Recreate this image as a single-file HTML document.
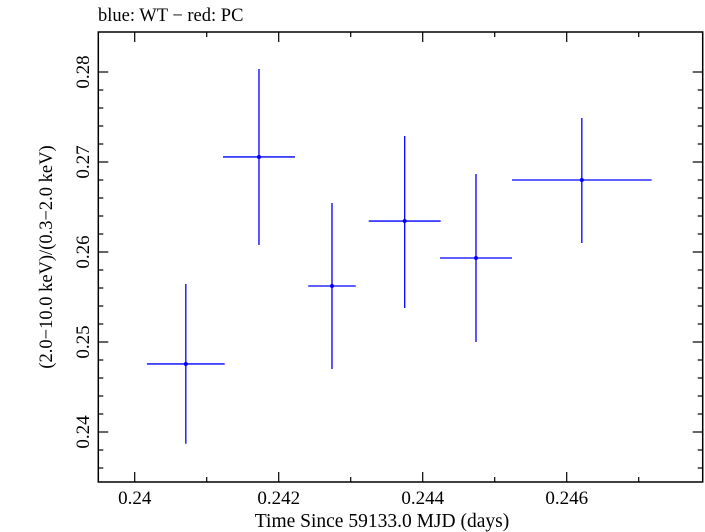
<!DOCTYPE html>
<html><head><meta charset="utf-8"><style>
body{margin:0;background:#fff;}
svg{display:block;font-family:"Liberation Serif",serif;}
</style></head><body>
<svg id="chart" width="705" height="532">
<text x="98" y="21" font-size="18.5">blue: WT − red: PC</text>
<rect x="98.3" y="32" width="604.4" height="450" fill="none" stroke="#000" stroke-width="1.5"/>
<g id="axes"></g>
<g id="series"></g>
<text x="382" y="527" font-size="19.5" text-anchor="middle">Time Since 59133.0 MJD (days)</text>
<text transform="translate(52,257) rotate(-90)" font-size="18.5" text-anchor="middle">(2.0−10.0 keV)/(0.3−2.0 keV)</text>
</svg>
<script>
const xCenters=[0.24071,0.241726,0.24274,0.24375,0.24474,0.24621];
const xErrs=[0.00054,0.0005,0.00033,0.0005,0.0005,0.00097];
const yValues=[0.24756,0.27056,0.25622,0.26344,0.25933,0.268];
const yLow=[0.2387,0.26078,0.247,0.25378,0.25,0.261];
const yHigh=[0.25644,0.28033,0.26544,0.27289,0.26867,0.27489];
const xTicks=[0.24,0.242,0.244,0.246];
const xTickLabels=["0.24","0.242","0.244","0.246"];
const yTicks=[0.24,0.25,0.26,0.27,0.28];
const yTickLabels=["0.24","0.25","0.26","0.27","0.28"];
const NS="http://www.w3.org/2000/svg";
const L=98.3,R=702.7,T=32,B=482;
function xs(v){return 134.7+(v-0.24)*72000;}
function ys(v){return 72+(0.28-v)*9000;}
const axes=document.getElementById('axes'),ser=document.getElementById('series');
function line(p,x1,y1,x2,y2,c,w,name){const l=document.createElementNS(NS,'line');
l.setAttribute('x1',x1);l.setAttribute('y1',y1);l.setAttribute('x2',x2);l.setAttribute('y2',y2);
l.setAttribute('stroke',c);l.setAttribute('stroke-width',w);


p.appendChild(l);return l;}
for(let k=-1;k<=8;k++){const v=0.24+k*0.001;const x=xs(v);if(x<L||x>R)continue;
 const major=(k%2)==0;const len=major?10:5;
 line(axes,x,B,x,B-len,'#000',1.2,'x-tick');line(axes,x,T,x,T+len,'#000',1.2,'x-tick-top');}
xTicks.forEach((v,i)=>{const t=document.createElementNS(NS,'text');t.setAttribute('x',xs(v));t.setAttribute('y',504);
t.setAttribute('font-size','19');t.setAttribute('text-anchor','middle');t.textContent=xTickLabels[i];


axes.appendChild(t);});
for(let k=-3;k<=22;k++){const v=0.236+k*0.002;const y=ys(v);if(y<T||y>B)continue;
 const major=(k%5)==2;const len=major?10:5;
 line(axes,L,y,L+len,y,'#000',1.2,'y-tick');line(axes,R,y,R-len,y,'#000',1.2,'y-tick-right');}
yTicks.forEach((v,i)=>{const t=document.createElementNS(NS,'text');
t.setAttribute('transform','translate(89,'+ys(v)+') rotate(-90)');
t.setAttribute('font-size','19');t.setAttribute('text-anchor','middle');t.textContent=yTickLabels[i];


axes.appendChild(t);});
xCenters.forEach((xc,i)=>{
 line(ser,xs(xc-xErrs[i]),ys(yValues[i]),xs(xc+xErrs[i]),ys(yValues[i]),'#0000ff',1.3,'x-error-bar');
 line(ser,xs(xc),ys(yLow[i]),xs(xc),ys(yHigh[i]),'#0000ff',1.3,'y-error-bar');
 const c=document.createElementNS(NS,'circle');c.setAttribute('cx',xs(xc));c.setAttribute('cy',ys(yValues[i]));
 c.setAttribute('r',2);c.setAttribute('fill','#0000ff');
 
 
 ser.appendChild(c);});
</script>
</body></html>
